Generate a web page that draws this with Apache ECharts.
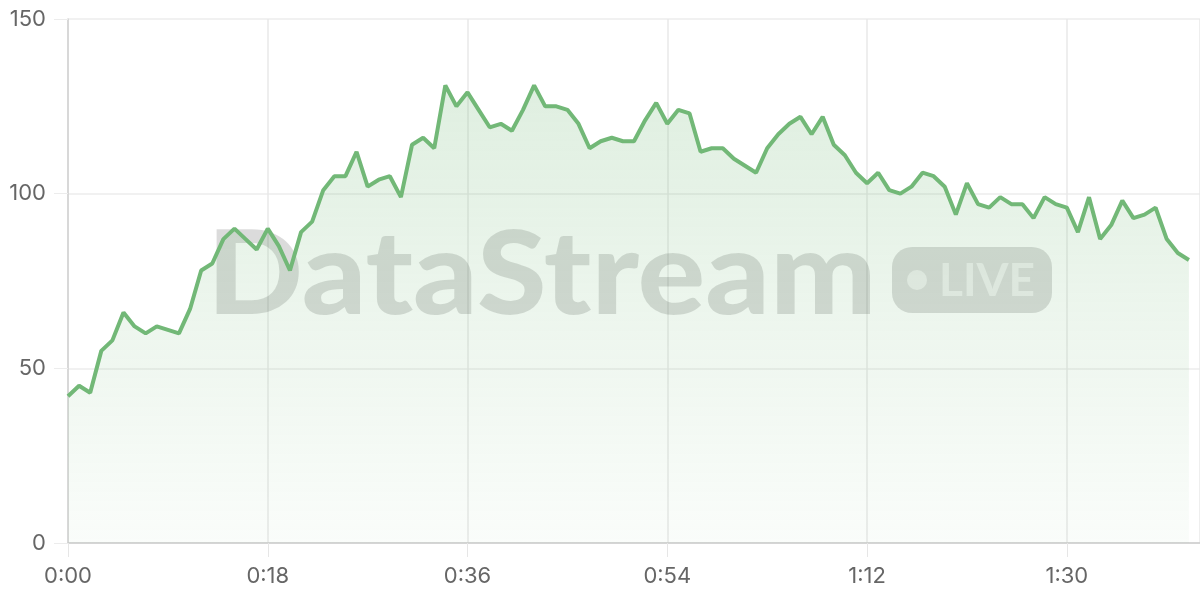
<!DOCTYPE html>
<html>
<head>
<meta charset="utf-8">
<script src="https://cdn.jsdelivr.net/npm/echarts@6/dist/echarts.min.js"></script>
<style>html,body{margin:0;padding:0;background:#fff}#c{width:1200px;height:600px}</style>
</head>
<body>
<div id="c"></div>
<script>
// seconds elapsed (one sample per second)
const seconds = [];
for (let i = 0; i <= 101; i++) seconds.push(i);
const values = [
  42, 45, 43, 55, 58, 66, 62, 60, 62, 61,
  60, 67, 78, 80, 87, 90, 87, 84, 90, 85,
  78, 89, 92, 101, 105, 105, 112, 102, 104, 105,
  99, 114, 116, 113, 131, 125, 129, 124, 119, 120,
  118, 124, 131, 125, 125, 124, 120, 113, 115, 116,
  115, 115, 121, 126, 120, 124, 123, 112, 113, 113,
  110, 108, 106, 113, 117, 120, 122, 117, 122, 114,
  111, 106, 103, 106, 101, 100, 102, 106, 105, 102,
  94, 103, 97, 96, 99, 97, 97, 93, 99, 97,
  96, 89, 99, 87, 91, 98, 93, 94, 96, 87,
  83, 81
];
const yTicks = [0, 50, 100, 150];
const xTickStep = 18;
const watermarkText = 'DataStream';
const badgeText = 'LIVE';

const chart = echarts.init(document.getElementById('c'), null, {renderer: 'canvas'});
const fmt = v => {
  const m = Math.floor(v / 60), s = Math.round(v % 60);
  return m + ':' + (s < 10 ? '0' : '') + s;
};
const wmColor = 'rgba(0,0,0,0.14)';
chart.setOption({
  animation: false,
  grid: {left: 68, right: 0, top: 19, bottom: 57, containLabel: false},
  xAxis: {
    type: 'value', min: 0, max: 102, interval: xTickStep,
    axisLine: {show: true, lineStyle: {color: '#cccccc', width: 1.5}},
    axisTick: {show: true, length: 14, lineStyle: {color: '#e6e6e6'}},
    splitLine: {show: true, lineStyle: {color: '#e9e9e9', width: 1.5}},
    axisLabel: {
      margin: 22, color: '#666', fontSize: 22, fontFamily: 'Inter',
      showMaxLabel: false,
      formatter: v => (v % xTickStep === 0 ? fmt(v) : '')
    }
  },
  yAxis: {
    type: 'value', min: yTicks[0], max: yTicks[yTicks.length - 1], interval: 50,
    axisLine: {show: true, lineStyle: {color: '#d0d0d0', width: 1.5}},
    axisTick: {show: true, length: 14, lineStyle: {color: '#ececec'}},
    splitLine: {show: true, lineStyle: {color: '#ececec', width: 1.5}},
    axisLabel: {margin: 22, color: '#666', fontSize: 22, fontFamily: 'Inter'}
  },
  graphic: [
    {type: 'text', z: 1, x: 207, y: 276, scaleX: 1.08,
     style: {text: watermarkText, fill: wmColor, font: '900 117px Lato', verticalAlign: 'middle'}},
    {type: 'rect', z: 1, shape: {x: 892, y: 247, width: 160, height: 66, r: 20}, style: {fill: wmColor}},
    {type: 'circle', z: 1, shape: {cx: 917, cy: 280, r: 10}, style: {fill: 'rgba(255,255,255,0.55)'}},
    {type: 'text', z: 1, x: 939, y: 281,
     style: {text: badgeText, fill: 'rgba(255,255,255,0.55)', font: '700 46px Lato', verticalAlign: 'middle'}}
  ],
  series: [{
    type: 'line',
    data: seconds.map((s, i) => [s, values[i]]),
    symbol: 'none',
    smooth: false,
    z: 3,
    lineStyle: {color: '#72b877', width: 4},
    areaStyle: {
      color: new echarts.graphic.LinearGradient(0, 0, 0, 1, [
        {offset: 0, color: 'rgba(114,184,119,0.32)'},
        {offset: 1, color: 'rgba(114,184,119,0.05)'}
      ])
    }
  }]
});
</script>
</body>
</html>
